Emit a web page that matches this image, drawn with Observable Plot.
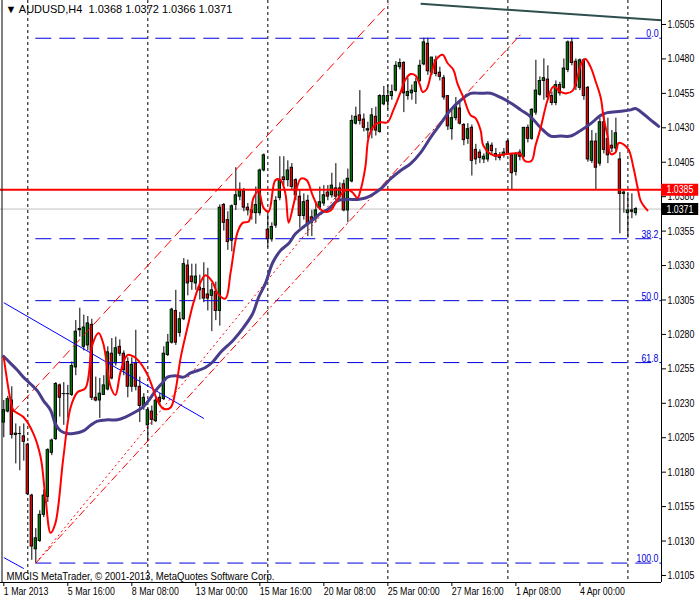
<!DOCTYPE html>
<html><head><meta charset="utf-8">
<script src="https://cdn.jsdelivr.net/npm/d3@7"></script>
<script src="https://cdn.jsdelivr.net/npm/@observablehq/plot@0.6"></script>
<style>
body{margin:0;background:#fff;}
#chart svg{display:block;white-space:pre;}
</style></head><body><div id="chart"></div>
<script>
// ---------- data ----------
const symbol = "AUDUSD,H4";
const lastQuote = [1.0368, 1.0372, 1.0366, 1.0371];
const copyright = "MMCIS MetaTrader, © 2001-2013, MetaQuotes Software Corp.";

const opens = [1.0216,1.0224,1.0232,1.0207,1.0208,1.0206,1.0200,1.0163,1.0124,1.0130,
1.0149,1.0162,1.0194,1.0204,1.0243,1.0237,1.0237,1.0236,1.0256,1.0283,
1.0271,1.0272,1.0287,1.0234,1.0232,1.0236,1.0240,1.0266,1.0259,1.0271,
1.0266,1.0260,1.0242,1.0259,1.0242,1.0228,1.0214,1.0224,1.0217,1.0234,
1.0233,1.0265,1.0274,1.0297,1.0281,1.0291,1.0330,1.0322,1.0317,1.0314,
1.0313,1.0309,1.0308,1.0311,1.0297,1.0374,1.0363,1.0348,1.0374,1.0380,
1.0384,1.0372,1.0370,1.0368,1.0368,1.0399,1.0356,1.0349,1.0359,1.0379,
1.0394,1.0392,1.0401,1.0392,1.0380,1.0366,1.0377,1.0365,1.0364,1.0372,
1.0375,1.0383,1.0381,1.0386,1.0380,1.0389,1.0370,1.0391,1.0433,1.0439,
1.0436,1.0428,1.0428,1.0438,1.0427,1.0447,1.0449,1.0453,1.0457,1.0474,
1.0477,1.0453,1.0455,1.0456,1.0464,1.0476,1.0491,1.0470,1.0479,1.0470,
1.0466,1.0453,1.0429,1.0437,1.0444,1.0432,1.0422,1.0430,1.0414,1.0412,
1.0407,1.0407,1.0417,1.0411,1.0410,1.0410,1.0420,1.0410,1.0398,1.0412,
1.0409,1.0430,1.0422,1.0441,1.0454,1.0464,1.0465,1.0453,1.0448,1.0461,
1.0459,1.0472,1.0492,1.0478,1.0459,1.0479,1.0459,1.0406,1.0420,1.0404,
1.0434,1.0422,1.0417,1.0415,1.0407,1.0382,1.0368,1.0370,1.0368];
const highs = [1.0232,1.0235,1.0242,1.0215,1.0213,1.0215,1.0201,1.0164,1.0139,1.0152,
1.0167,1.0197,1.0204,1.0245,1.0244,1.0245,1.0243,1.0260,1.0290,1.0299,
1.0294,1.0293,1.0291,1.0249,1.0248,1.0250,1.0271,1.0277,1.0278,1.0276,
1.0268,1.0263,1.0263,1.0283,1.0249,1.0237,1.0227,1.0228,1.0235,1.0237,
1.0271,1.0280,1.0299,1.0312,1.0296,1.0335,1.0334,1.0331,1.0331,1.0323,
1.0332,1.0328,1.0317,1.0318,1.0374,1.0375,1.0369,1.0374,1.0401,1.0390,
1.0386,1.0375,1.0374,1.0387,1.0400,1.0411,1.0368,1.0361,1.0380,1.0409,
1.0409,1.0406,1.0404,1.0393,1.0385,1.0382,1.0381,1.0370,1.0376,1.0387,
1.0388,1.0388,1.0397,1.0404,1.0390,1.0392,1.0400,1.0439,1.0445,1.0457,
1.0440,1.0434,1.0444,1.0445,1.0454,1.0460,1.0461,1.0461,1.0478,1.0480,
1.0478,1.0466,1.0461,1.0466,1.0479,1.0495,1.0495,1.0481,1.0482,1.0474,
1.0468,1.0453,1.0443,1.0452,1.0449,1.0433,1.0433,1.0432,1.0418,1.0414,
1.0411,1.0420,1.0419,1.0415,1.0412,1.0415,1.0421,1.0411,1.0412,1.0414,
1.0430,1.0432,1.0444,1.0479,1.0467,1.0480,1.0475,1.0456,1.0464,1.0463,
1.0480,1.0493,1.0495,1.0480,1.0480,1.0480,1.0460,1.0428,1.0426,1.0437,
1.0439,1.0437,1.0428,1.0437,1.0412,1.0385,1.0382,1.0382,1.0372];
const lows = [1.0205,1.0223,1.0204,1.0186,1.0181,1.0188,1.0163,1.0116,1.0114,1.0129,
1.0147,1.0158,1.0192,1.0203,1.0220,1.0214,1.0219,1.0235,1.0250,1.0278,
1.0268,1.0268,1.0232,1.0231,1.0219,1.0236,1.0239,1.0247,1.0257,1.0264,
1.0250,1.0234,1.0238,1.0239,1.0216,1.0225,1.0202,1.0214,1.0216,1.0228,
1.0232,1.0264,1.0273,1.0272,1.0278,1.0290,1.0308,1.0312,1.0312,1.0305,
1.0303,1.0297,1.0282,1.0290,1.0286,1.0355,1.0341,1.0340,1.0370,1.0377,
1.0369,1.0366,1.0363,1.0360,1.0366,1.0398,1.0343,1.0347,1.0357,1.0377,
1.0388,1.0387,1.0385,1.0377,1.0357,1.0363,1.0351,1.0351,1.0361,1.0370,
1.0373,1.0377,1.0379,1.0377,1.0377,1.0369,1.0361,1.0390,1.0432,1.0432,
1.0427,1.0422,1.0422,1.0424,1.0426,1.0446,1.0443,1.0450,1.0456,1.0472,
1.0441,1.0450,1.0450,1.0447,1.0463,1.0475,1.0468,1.0468,1.0467,1.0464,
1.0450,1.0428,1.0421,1.0435,1.0432,1.0417,1.0418,1.0395,1.0403,1.0404,
1.0404,1.0405,1.0410,1.0406,1.0406,1.0408,1.0410,1.0385,1.0395,1.0406,
1.0408,1.0419,1.0421,1.0439,1.0453,1.0450,1.0450,1.0446,1.0446,1.0453,
1.0458,1.0470,1.0475,1.0457,1.0457,1.0450,1.0405,1.0404,1.0385,1.0402,
1.0411,1.0404,1.0412,1.0412,1.0353,1.0368,1.0350,1.0364,1.0366];
const closes = [1.0225,1.0233,1.0207,1.0208,1.0208,1.0202,1.0164,1.0126,1.0132,1.0149,
1.0163,1.0196,1.0203,1.0244,1.0234,1.0237,1.0237,1.0257,1.0282,1.0284,
1.0285,1.0288,1.0234,1.0232,1.0237,1.0243,1.0267,1.0248,1.0270,1.0266,
1.0254,1.0242,1.0258,1.0242,1.0228,1.0234,1.0225,1.0218,1.0232,1.0231,
1.0266,1.0274,1.0298,1.0274,1.0291,1.0331,1.0317,1.0318,1.0322,1.0312,
1.0306,1.0306,1.0312,1.0297,1.0372,1.0361,1.0347,1.0373,1.0381,1.0385,
1.0372,1.0370,1.0368,1.0374,1.0399,1.0410,1.0349,1.0358,1.0377,1.0392,
1.0392,1.0399,1.0387,1.0381,1.0366,1.0376,1.0360,1.0361,1.0370,1.0376,
1.0381,1.0380,1.0388,1.0380,1.0386,1.0370,1.0393,1.0435,1.0438,1.0435,
1.0430,1.0429,1.0439,1.0428,1.0453,1.0453,1.0453,1.0456,1.0475,1.0477,
1.0455,1.0456,1.0457,1.0463,1.0475,1.0492,1.0471,1.0481,1.0469,1.0467,
1.0452,1.0431,1.0437,1.0445,1.0433,1.0421,1.0429,1.0406,1.0407,1.0408,
1.0409,1.0418,1.0413,1.0409,1.0408,1.0412,1.0411,1.0397,1.0411,1.0409,
1.0430,1.0422,1.0443,1.0457,1.0464,1.0466,1.0452,1.0448,1.0461,1.0455,
1.0473,1.0492,1.0477,1.0460,1.0479,1.0453,1.0407,1.0420,1.0401,1.0434,
1.0414,1.0410,1.0415,1.0426,1.0382,1.0383,1.0370,1.0369,1.0371];

// x-axis ticks (bar index) and labels
const xTickBars = [0,16,32,48,64,80,96,112,128,144];
const xTickLabels = ["1 Mar 2013","5 Mar 16:00","8 Mar 08:00","13 Mar 00:00","15 Mar 16:00",
  "20 Mar 08:00","25 Mar 00:00","27 Mar 16:00","1 Apr 08:00","4 Apr 00:00"];
const weekSeparatorBars = [6,36,66,96,126,156];
const yTickValues = [1.0105,1.0130,1.0155,1.0180,1.0205,1.0230,1.0255,1.0280,1.0305,
  1.0330,1.0355,1.0380,1.0405,1.0430,1.0455,1.0480,1.0505];

// fast moving average (red): bar index / price
const fastMaBars = [0,1.7,2.4,4.9,7.4,9.2,10.4,11.7,12.9,14.9,16.7,18.4,20.4,22.2,23.7,24.9,26.7,27.9,29.2,30.9,
 32.4,34.2,36.2,38.4,39.9,41.7,42.9,44.2,45.9,47.4,49.2,50.4,52.2,53.4,55.4,56.7,58.4,59.7,61.2,62.4,
 63.7,64.9,66.2,67.9,69.2,70.4,71.2,72.4,74.2,75.7,77.2,78.7,80.4,81.7,83.2,84.4,85.9,87.2,88.4,89.2,
 90.4,91.2,92.7,94.2,95.9,97.4,99.2,100.4,101.7,102.9,103.9,104.7,105.7,106.9,108.2,109.7,110.9,112.4,113.4,114.9,
 116.7,117.9,119.2,119.9,122.4,125.9,129.2,130.2,131.9,132.9,134.2,135.9,137.4,139.2,140.7,142.2,143.4,144.4,145.4,146.7,
 147.9,149.2,149.9,150.9,151.7,152.9,153.7,154.9,156.2,157.4,158.4,159.2,160.9];
const fastMaValues = [1.0263,1.0232,1.0225,1.0220,1.0208,1.0191,1.0162,1.0136,1.0143,1.0191,1.0227,1.0238,1.0241,1.0273,1.0281,1.0273,1.0242,1.0236,1.0253,1.0265,
 1.0264,1.0259,1.0249,1.0232,1.0226,1.0227,1.0239,1.0263,1.0285,1.0303,1.0318,1.0323,1.0318,1.0310,1.0306,1.0325,1.0354,1.0361,1.0362,1.0379,
 1.0384,1.0372,1.0369,1.0392,1.0392,1.0382,1.0361,1.0374,1.0393,1.0392,1.0381,1.0372,1.0369,1.0370,1.0377,1.0382,1.0385,1.0383,1.0379,1.0385,
 1.0402,1.0423,1.0432,1.0434,1.0434,1.0443,1.0456,1.0465,1.0469,1.0468,1.0462,1.0456,1.0458,1.0470,1.0480,1.0483,1.0477,1.0472,1.0462,1.0452,
 1.0439,1.0437,1.0428,1.0417,1.0410,1.0411,1.0411,1.0406,1.0406,1.0417,1.0430,1.0450,1.0460,1.0456,1.0455,1.0457,1.0467,1.0477,1.0480,1.0474,
 1.0464,1.0452,1.0438,1.0424,1.0411,1.0412,1.0419,1.0418,1.0414,1.0401,1.0387,1.0377,1.0370];

// slow moving average (dark slate blue)
const slowMaBars = [0,1.7,3.4,4.9,6.7,8.4,9.9,11.7,12.9,14.2,15.9,17.4,19.9,21.7,23.4,25.9,28.4,30.4,32.4,34.7,
 36.2,37.9,39.7,40.9,42.9,44.9,46.7,48.7,50.4,52.2,54.2,57.4,59.9,62.2,63.7,65.4,67.2,69.2,71.2,72.9,
 74.9,77.2,79.2,81.2,83.4,85.9,88.4,90.4,92.4,94.7,96.7,99.2,101.7,104.2,106.7,109.2,111.7,114.2,116.7,119.2,
 121.7,124.2,126.7,129.2,131.7,134.2,136.7,139.2,141.7,144.2,146.7,149.2,150.9,154.2,156.7,157.9,159.9,162.4,163.7];
const slowMaValues = [1.0264,1.0259,1.0254,1.0249,1.0244,1.0239,1.0232,1.0225,1.0215,1.0210,1.0208,1.0208,1.0210,1.0214,1.0217,1.0218,1.0218,1.0220,1.0223,1.0227,
 1.0232,1.0239,1.0245,1.0249,1.0250,1.0249,1.0252,1.0254,1.0256,1.0260,1.0267,1.0276,1.0285,1.0295,1.0307,1.0317,1.0332,1.0341,1.0346,1.0353,
 1.0358,1.0363,1.0368,1.0371,1.0377,1.0378,1.0378,1.0379,1.0382,1.0387,1.0393,1.0399,1.0404,1.0412,1.0423,1.0433,1.0443,1.0450,1.0455,1.0455,
 1.0455,1.0452,1.0448,1.0443,1.0438,1.0430,1.0424,1.0424,1.0424,1.0428,1.0433,1.0439,1.0441,1.0442,1.0443,1.0444,1.0440,1.0434,1.0431];

// Fibonacci retracement
const fibLevels = [0, 38.2, 50, 61.8, 100];
const fibHighPrice = 1.0495, fibLowPrice = 1.0114, fibStartBar = 8;

// horizontal lines
const levelPrice = 1.0385;
const bidPrice = 1.0371;

// trend lines: [bar1, price1, bar2, price2]
const slateLine = [104.2, 1.0520, 164.4, 1.0508];
const blueLines = [[0, 1.0303, 50, 1.0219], [0, 1.0118, 5, 1.0110]];
const channelUpper = [2.1, 1.0223, 96.2, 1.0520];
const channelLower = [8, 1.0114, 129.6, 1.0499];
const steepLine = [8, 1.0114, 85, 1.0387];

// ---------- build ----------
const bars = opens.map((o, i) => ({i, o, h: highs[i], l: lows[i], c: closes[i]}));
const fast = fastMaBars.map((b, k) => ({b, v: fastMaValues[k]}));
const slow = slowMaBars.map((b, k) => ({b, v: slowMaValues[k]}));
const fib = fibLevels.map(level => ({level, price: fibHighPrice - (fibHighPrice - fibLowPrice) * level / 100}));
const seg = a => ({x1: a[0], y1: a[1], x2: a[2], y2: a[3]});

const xDomain = [-0.825, 164.4];
const yDomain = [1.00999, 1.05224];
const font = '"Liberation Sans",Arial,sans-serif';
const boxBars = 9.3;

const chart = Plot.plot({
  width: 700, height: 600,
  marginLeft: 0, marginRight: 39, marginTop: 0, marginBottom: 18,
  x: {domain: xDomain, axis: null},
  y: {domain: yDomain, axis: null},
  style: {fontFamily: font, fontSize: "11px", background: "#fff", color: "#000"},
  marks: [
    Plot.ruleX(weekSeparatorBars, {stroke: "#000", strokeDasharray: "3,3", strokeWidth: 1}),
    Plot.ruleY([bidPrice], {stroke: "#c0c0c0", strokeWidth: 1}),
    Plot.ruleX(bars, {x: "i", y1: "l", y2: "h", stroke: "#000", strokeWidth: 1}),
    Plot.rect(bars.filter(d => d.o !== d.c), {
      x1: d => d.i - 0.3, x2: d => d.i + 0.3, y1: "o", y2: "c",
      fill: d => d.c > d.o ? "#007000" : "#e00000", stroke: "#000", strokeWidth: 0.9
    }),
    Plot.ruleY(bars.filter(d => d.o === d.c), {y: "o", x1: d => d.i - 0.45, x2: d => d.i + 0.45, stroke: "#000"}),
    Plot.ruleY(fib, {y: "price", x1: fibStartBar, x2: xDomain[1], stroke: "#0000dd", strokeDasharray: "16,8"}),
    Plot.text(fib, {y: "price", text: d => d.level.toFixed(1), frameAnchor: "right", dx: -3, dy: -1,
      textAnchor: "end", lineAnchor: "bottom", fill: "#0000dd", fontSize: 11, ariaLabel: () => "fib-label"}),
    Plot.link([seg(channelUpper)], {x1: "x1", y1: "y1", x2: "x2", y2: "y2", stroke: "#ff0000", strokeWidth: 1, strokeDasharray: "10,5"}),
    Plot.link([seg(channelLower)], {x1: "x1", y1: "y1", x2: "x2", y2: "y2", stroke: "#ff0000", strokeWidth: 1, strokeDasharray: "8,3,2,3"}),
    Plot.link([seg(steepLine)], {x1: "x1", y1: "y1", x2: "x2", y2: "y2", stroke: "#ff0000", strokeWidth: 1, strokeDasharray: "2,3"}),
    Plot.link(blueLines.map(seg), {x1: "x1", y1: "y1", x2: "x2", y2: "y2", stroke: "#0000ff", strokeWidth: 1}),
    Plot.link([seg(slateLine)], {x1: "x1", y1: "y1", x2: "x2", y2: "y2", stroke: "#2f4f4f", strokeWidth: 2}),
    Plot.ruleY([levelPrice], {x1: xDomain[0], x2: xDomain[1], stroke: "#ff0000", strokeWidth: 2}),
    Plot.line(slow, {x: "b", y: "v", stroke: "#483d8b", strokeWidth: 3, curve: "catmull-rom"}),
    Plot.line(fast, {x: "b", y: "v", stroke: "#ff0000", strokeWidth: 2, curve: "catmull-rom"}),
    Plot.ruleX([xDomain[0]], {stroke: "#000", dx: 1.5}),
    Plot.ruleX([xDomain[1]], {stroke: "#000"}),
    Plot.ruleY([yDomain[0]], {stroke: "#000", x1: xDomain[0], x2: xDomain[1]}),
    Plot.axisY(yTickValues, {anchor: "right", tickSize: 4, tickPadding: 2, tickFormat: d => d.toFixed(4), fontSize: 11}),
    Plot.axisX(xTickBars, {anchor: "bottom", tickSize: 4, tickPadding: 1, textAnchor: "start",
      tickFormat: d => xTickLabels[xTickBars.indexOf(d)], fontSize: 11}),
    Plot.ruleY([levelPrice], {x1: xDomain[1], x2: xDomain[1] + boxBars, stroke: "#ff0000", strokeWidth: 12}),
    Plot.text([levelPrice], {y: d => d, text: d => d.toFixed(4), frameAnchor: "right", textAnchor: "start", dx: 5, fill: "#fff", fontSize: 11, ariaLabel: () => "price-box"}),
    Plot.ruleY([bidPrice], {x1: xDomain[1], x2: xDomain[1] + boxBars, stroke: "#000", strokeWidth: 12}),
    Plot.text([bidPrice], {y: d => d, text: d => d.toFixed(4), frameAnchor: "right", textAnchor: "start", dx: 5, fill: "#fff", fontSize: 11, ariaLabel: () => "price-box"}),
    Plot.text([`▼ ${symbol}  ${lastQuote.map(v => v.toFixed(4)).join(" ")}`], {frameAnchor: "top-left", dx: 5, dy: 5,
      textAnchor: "start", lineAnchor: "top", fontSize: 11, ariaLabel: () => "title"}),
    Plot.text([copyright], {frameAnchor: "bottom-left", dx: 6, dy: -3, textAnchor: "start", lineAnchor: "bottom", fontSize: 11, ariaLabel: () => "copyright"})
  ]
});
document.getElementById("chart").appendChild(chart);

// narrow the glyphs to the tall, condensed look of the terminal font
function squeeze(label, factor) {
  d3.select(chart).selectAll(`g[aria-label="${label}"] text, text[aria-label="${label}"]`).each(function () {
    const len = this.getComputedTextLength();
    if (len > 0) {
      this.setAttribute("textLength", (len * factor).toFixed(1));
      this.setAttribute("lengthAdjust", "spacingAndGlyphs");
    }
  });
}
squeeze("y-axis tick label", 0.8);
squeeze("x-axis tick label", 0.8);
squeeze("fib-label", 0.8);
squeeze("price-box", 0.8);
squeeze("copyright", 0.87);
</script>
</body></html>
